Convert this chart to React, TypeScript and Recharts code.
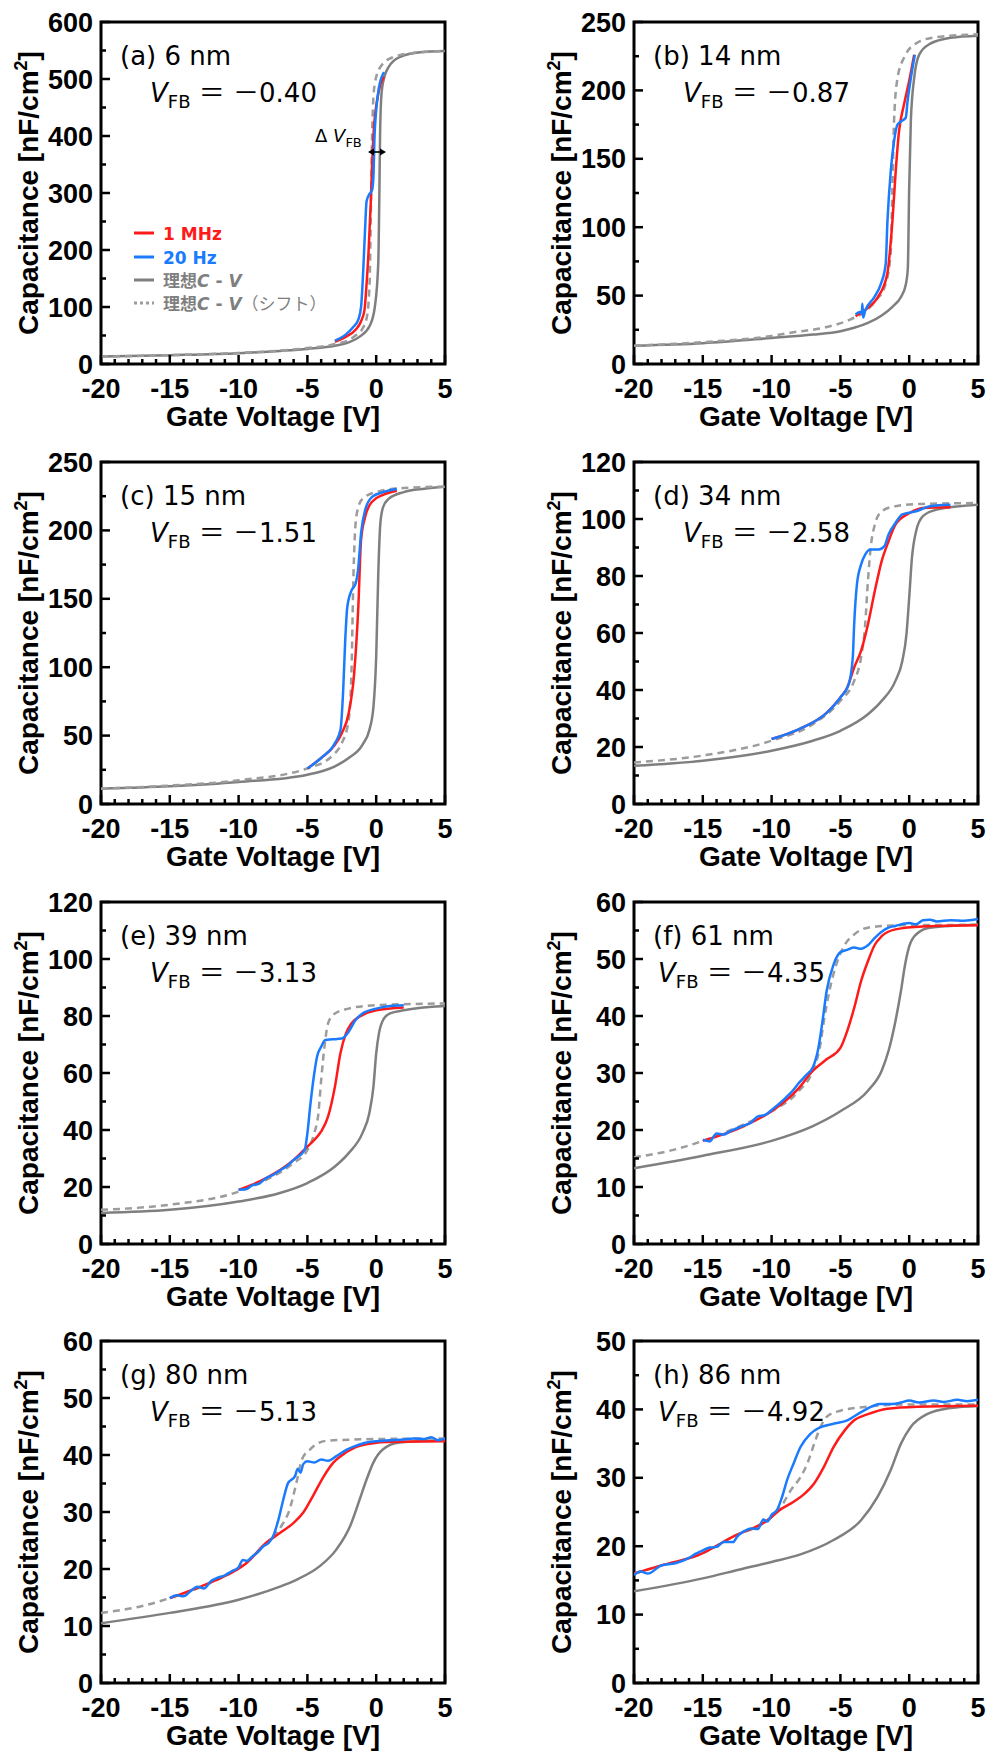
import React from 'react';
import { LineChart, Line, XAxis, YAxis, ReferenceArea } from 'recharts';

type Pt = [number, number];

const ARIAL = '"Liberation Sans", Arial, sans-serif';
const LABEL_FONT = '"DejaVu Sans", "Noto Sans CJK JP", sans-serif';
const RED = '#ff1a1a';
const BLUE = '#1a7bff';
const GRAY = '#7f7f7f';
const GRAY_D = '#9c9c9c';

// gate voltage ticks (every 1 V, labelled every 5 V)
const xTicks = [-20, -19, -18, -17, -16, -15, -14, -13, -12, -11, -10, -9, -8, -7, -6, -5, -4, -3, -2, -1, 0, 1, 2, 3, 4, 5];

// (a) 6 nm
const aIdeal: Pt[] = [[-20, 13], [-15, 15.5], [-10, 19], [-7, 23], [-5, 26.5], [-3, 32], [-2, 38], [-1.2, 48], [-0.45, 68], [-0.1, 100], [0.15, 177], [0.22, 280], [0.28, 400], [0.35, 460], [0.48, 492], [0.9, 521], [1.75, 539], [3.2, 547], [5, 549]];
const aShift: Pt[] = [[-20, 13], [-15, 15.5], [-10, 19.5], [-7, 23.5], [-5, 28], [-3, 35], [-2, 42], [-1.5, 50], [-1, 62], [-0.7, 80], [-0.55, 110], [-0.45, 170], [-0.38, 280], [-0.3, 400], [-0.22, 460], [-0.1, 492], [0.3, 521], [1.2, 538], [2.8, 546], [5, 549]];
const a1MHz: Pt[] = [[-3, 39], [-2.2, 48], [-1.5, 60], [-1.1, 75], [-0.85, 95], [-0.7, 140], [-0.55, 200], [-0.4, 280], [-0.28, 360], [-0.15, 420], [0.05, 460], [0.3, 490], [0.57, 504]];
const a20Hz: Pt[] = [[-3, 41], [-2.2, 52], [-1.7, 64], [-1.3, 78], [-1.1, 100], [-0.95, 160], [-0.82, 230], [-0.7, 285], [-0.5, 298], [-0.3, 305], [-0.2, 330], [-0.12, 400], [-0.02, 440], [0.2, 485], [0.57, 512]];
const aYTicks = [0, 50, 100, 150, 200, 250, 300, 350, 400, 450, 500, 550, 600];

// (b) 14 nm
const bIdeal: Pt[] = [[-20, 13.4], [-15, 15.2], [-10, 19], [-7, 21.5], [-5, 24], [-4, 26.5], [-3, 30], [-2, 35.5], [-1.2, 42], [-0.6, 49], [-0.25, 58], [-0.1, 70], [0, 129], [0.12, 178], [0.36, 209], [0.72, 226], [1.5, 234], [3, 238.5], [5, 240]];
const bShift: Pt[] = [[-20, 13.4], [-15, 16], [-10, 20.5], [-8.6, 22.9], [-6, 27], [-4.3, 32.5], [-3, 40], [-2.3, 48], [-1.8, 55.8], [-1.35, 80], [-1.22, 129], [-1.1, 178], [-0.85, 209], [-0.37, 224], [0.6, 235], [2, 239], [5, 241]];
const b1MHz: Pt[] = [[-3.9, 35], [-3, 41], [-2.3, 48.5], [-1.6, 65.6], [-1.22, 104.5], [-0.98, 141], [-0.74, 170], [-0.37, 190], [0, 207], [0.36, 226]];
const b20Hz: Pt[] = [[-3.9, 36.3], [-3.6, 38], [-3.45, 37], [-3.4, 44], [-3.35, 34], [-3.2, 39], [-2.56, 48.5], [-2.07, 58.2], [-1.71, 72.9], [-1.58, 104.5], [-1.34, 141], [-1.1, 163], [-0.85, 175], [-0.49, 178], [-0.25, 180], [-0.12, 192], [0.12, 209], [0.41, 226]];
const bYTicks = [0, 25, 50, 75, 100, 125, 150, 175, 200, 225, 250];

// (c) 15 nm
const cIdeal: Pt[] = [[-20, 11.2], [-15, 12.9], [-10, 16], [-5, 21.4], [-3, 27.5], [-2, 33.6], [-1, 43.3], [-0.5, 54], [-0.2, 71], [0, 108], [0.15, 168], [0.3, 205], [0.5, 217], [0.9, 223], [2, 228], [3.5, 230.5], [5, 232]];
const cShift: Pt[] = [[-20, 11.2], [-15, 13.5], [-10, 17.3], [-5, 26], [-3, 37], [-2.5, 44.5], [-2, 61.5], [-1.8, 95.6], [-1.65, 168], [-1.5, 205], [-1.3, 217], [-1, 223], [0, 228], [2, 231], [5, 232]];
const c1MHz: Pt[] = [[-5, 26], [-4, 33.6], [-3, 43.3], [-2.5, 51.8], [-2, 66.4], [-1.6, 95.6], [-1.3, 144], [-1.1, 193], [-0.8, 210], [-0.3, 221], [0.5, 226], [1.5, 229]];
const c20Hz: Pt[] = [[-5, 26], [-4, 33.6], [-3, 44.5], [-2.6, 54], [-2.4, 83], [-2.25, 120], [-2.1, 144], [-1.8, 156], [-1.5, 161], [-1.3, 173], [-1.1, 198], [-0.8, 215], [-0.3, 224.5], [0.5, 228], [1.5, 230.5]];
const cYTicks = [0, 25, 50, 75, 100, 125, 150, 175, 200, 225, 250];

// (d) 34 nm
const dIdeal: Pt[] = [[-20, 13.4], [-15, 15.2], [-10, 18.7], [-7, 22.2], [-5, 25.7], [-3, 31.5], [-2, 36.2], [-1, 43.2], [-0.5, 50.2], [-0.2, 59.5], [0, 72.4], [0.2, 86.4], [0.5, 95.7], [1, 101], [2, 103.3], [5, 105]];
const dShift: Pt[] = [[-20, 14.6], [-15, 17], [-10, 22.2], [-7, 28], [-5, 36.2], [-4, 43.2], [-3.5, 51.4], [-3.2, 63], [-3, 78.2], [-2.8, 89.9], [-2.5, 98], [-2, 102.7], [-1, 104.5], [1, 105.3], [5, 105.6]];
const d1MHz: Pt[] = [[-10, 22.8], [-8, 26.3], [-6, 32], [-5, 37.4], [-4.5, 40.9], [-4, 47.9], [-3.5, 53.7], [-3, 63], [-2.5, 74.7], [-2, 85.2], [-1.5, 92.2], [-1, 98], [0, 102], [1, 103.9], [3, 104.1]];
const d20Hz: Pt[] = [[-10, 22.8], [-8, 26.3], [-6, 32], [-5, 37.4], [-4.4, 42], [-4.1, 51.4], [-4, 63], [-3.8, 77], [-3.5, 84], [-3.2, 87.5], [-2.8, 89.3], [-2.2, 89.3], [-1.8, 90.5], [-1.5, 94.6], [-1, 98.6], [-0.5, 101.6], [0.5, 102.7], [1.5, 104.5], [3, 105]];
const dYTicks = [0, 10, 20, 30, 40, 50, 60, 70, 80, 90, 100, 110, 120];

// (e) 39 nm
const eIdeal: Pt[] = [[-20, 10.9], [-15, 12], [-10, 14.9], [-7, 17.9], [-5, 21.4], [-3, 27.2], [-2, 31.9], [-1, 38.9], [-0.5, 45.9], [-0.2, 55.2], [0, 66.9], [0.2, 73.9], [0.5, 78.6], [1, 80.9], [2, 82], [5, 83.5]];
const eShift: Pt[] = [[-20, 12], [-15, 13.8], [-10, 18.4], [-8, 22.5], [-6, 28.4], [-5, 33], [-4.5, 38.9], [-4.2, 45.9], [-4, 57.5], [-3.7, 71.6], [-3.5, 77.4], [-3, 80.9], [-2, 82.6], [0, 83.8], [5, 84.4]];
const e1MHz: Pt[] = [[-10, 19], [-8, 23.1], [-6, 29.5], [-5, 34.2], [-4.5, 36.5], [-4, 39.5], [-3.5, 44.7], [-3, 55.2], [-2.6, 66.9], [-2.2, 73.9], [-1.8, 77.4], [-1, 80.3], [0, 82], [2, 83]];
const e20Hz: Pt[] = [[-10, 19], [-9.5, 19.2], [-9, 20.6], [-8.5, 21.2], [-8, 23.1], [-7.5, 24.2], [-7, 25.8], [-6.5, 27.3], [-6, 29.5], [-5.2, 33], [-5, 38.9], [-4.8, 48.2], [-4.5, 59.9], [-4.3, 65.7], [-4, 69.2], [-3.7, 71.6], [-3.2, 71.8], [-2.5, 72.1], [-2, 74.5], [-1.5, 78.6], [-1, 80.9], [0, 82.6], [1, 83.5], [2, 83.8]];
const eYTicks = [0, 10, 20, 30, 40, 50, 60, 70, 80, 90, 100, 110, 120];

// (f) 61 nm
const fIdeal: Pt[] = [[-20, 13.3], [-15, 15.5], [-10, 18.1], [-7, 20.7], [-5, 23.3], [-3, 26.9], [-2, 30.4], [-1.5, 33.9], [-1, 39.1], [-0.6, 44.4], [-0.3, 49], [0, 52.2], [0.5, 54.3], [1.5, 55.5], [5, 56]];
const fShift: Pt[] = [[-20, 15.2], [-17, 16.6], [-15, 18.1], [-12, 21], [-10, 23.3], [-8, 26.9], [-7, 30.4], [-6.5, 34.4], [-6.2, 39.1], [-5.8, 44.4], [-5.3, 49], [-4.8, 52], [-4, 54.3], [-3, 55.5], [-1, 55.9], [5, 56]];
const f1MHz: Pt[] = [[-15, 18.1], [-12, 20.7], [-10, 23.3], [-8, 27.4], [-7, 30.4], [-6, 32.4], [-5, 34.4], [-4.5, 37.4], [-4, 41.4], [-3.5, 46.1], [-3, 49.6], [-2.5, 52.5], [-2, 54], [-1, 55.2], [1, 55.7], [5, 55.9]];
const f20Hz: Pt[] = [[-15, 18.3], [-14.5, 18.0], [-14, 19.4], [-13.5, 19.2], [-13, 19.8], [-12, 20.8], [-11.5, 21.3], [-11, 22.4], [-10.5, 22.6], [-10, 23.5], [-9, 25.6], [-8.5, 26.8], [-8, 28.3], [-7.5, 29.6], [-7, 31], [-6.6, 34.4], [-6.3, 39.1], [-6, 44.4], [-5.5, 49], [-5, 51.2], [-4.5, 51.6], [-4, 52], [-3.5, 51.8], [-3, 52.4], [-2.5, 53.7], [-2, 54.8], [-1.5, 55.5], [-1, 55.8], [0, 56.3], [0.5, 56.1], [1, 56.8], [1.5, 56.9], [2, 56.6], [3, 56.8], [4, 56.7], [5, 57]];
const fYTicks = [0, 5, 10, 15, 20, 25, 30, 35, 40, 45, 50, 55, 60];

// (g) 80 nm
const gIdeal: Pt[] = [[-20, 10.5], [-15, 12.3], [-10, 14.6], [-7, 16.9], [-5.8, 18.1], [-4.1, 20.5], [-2.9, 23.4], [-1.9, 27.5], [-1.2, 32.2], [-0.7, 35.7], [-0.2, 38.7], [0.5, 41], [1.7, 42.2], [5, 42.6]];
const gShift: Pt[] = [[-20, 12.3], [-17, 13.5], [-15, 14.9], [-12, 17.6], [-10, 20.2], [-8.5, 23.2], [-7.5, 25.6], [-6.9, 27.5], [-6.3, 30.4], [-5.8, 35.1], [-5.4, 39.2], [-4.8, 41], [-3.6, 42.5], [0, 42.8], [5, 42.9]];
const g1MHz: Pt[] = [[-15, 14.9], [-13, 16.7], [-11.6, 18.1], [-9.4, 21.1], [-8, 24.6], [-7, 26.3], [-6, 28.1], [-5.3, 29.9], [-4.6, 32.8], [-3.8, 36.3], [-3.1, 38.7], [-2.4, 40.1], [-1.2, 41.6], [0.8, 42.3], [5, 42.4]];
const g20Hz: Pt[] = [[-15, 14.9], [-14.5, 15.4], [-14, 15.2], [-13.5, 16.1], [-13, 16.9], [-12.5, 16.6], [-12, 17.9], [-11.6, 18.4], [-11, 18.9], [-10.5, 19.6], [-10, 20.3], [-9.7, 21.6], [-9.4, 21.4], [-9, 22.2], [-8.6, 23], [-8.2, 24], [-7.8, 24.6], [-7.5, 25.7], [-7.1, 28.7], [-6.75, 32.2], [-6.4, 35.1], [-5.9, 36.3], [-5.7, 37.6], [-5.5, 36.9], [-5.3, 38.4], [-5, 38.9], [-4.5, 38.7], [-4, 39.2], [-3.5, 39], [-2.9, 39.8], [-2.1, 41], [-1.5, 41.6], [-0.7, 42.2], [0, 42.4], [1, 42.6], [2, 42.7], [2.7, 42.9], [3.5, 42.8], [4, 43.1], [4.5, 42.6], [5, 42.9]];
const gYTicks = [0, 5, 10, 15, 20, 25, 30, 35, 40, 45, 50, 55, 60];

// (h) 86 nm
const hIdeal: Pt[] = [[-20, 13.4], [-15, 15.3], [-12.3, 16.6], [-10, 17.7], [-7.9, 18.8], [-5.5, 20.9], [-3.5, 23.8], [-2.3, 27.2], [-1.35, 31.1], [-0.6, 35], [0.1, 37.4], [1.3, 39.3], [3, 40.2], [5, 40.5]];
const hShift: Pt[] = [[-20, 16], [-18, 17.2], [-15.2, 18.8], [-12.8, 21.4], [-10.3, 23.8], [-9.4, 25.5], [-8.6, 28.2], [-7.9, 30.1], [-7.4, 32.1], [-6.9, 35], [-6.45, 37.4], [-6, 38.9], [-5, 39.8], [-3, 40.4], [-0.6, 40.7], [5, 40.7]];
const h1MHz: Pt[] = [[-20, 16], [-18, 17.2], [-15.2, 18.8], [-12.8, 21.4], [-10.3, 23.8], [-9.4, 25.3], [-8.4, 26.5], [-7.7, 27.5], [-6.9, 29.2], [-6.2, 31.6], [-5.5, 34.5], [-4.7, 36.9], [-4, 38.4], [-3, 39.3], [-1.6, 40.1], [0.6, 40.4], [5, 40.55]];
const h20Hz: Pt[] = [[-20, 15.8], [-19.5, 16.3], [-19, 16], [-18, 17.2], [-17, 17.5], [-16, 18.3], [-15.5, 18.9], [-15.2, 19.2], [-14.5, 19.8], [-14, 19.9], [-13.5, 20.6], [-12.8, 20.6], [-12.5, 21.4], [-12, 22.2], [-11.5, 22.6], [-11, 22.5], [-10.6, 23.9], [-10.3, 23.6], [-10, 24.6], [-9.6, 25.3], [-9.24, 27.2], [-8.87, 29.7], [-8.4, 32.1], [-7.9, 34.5], [-7.2, 36.4], [-6.45, 37.4], [-5.5, 37.9], [-4.5, 38.4], [-3.5, 39.6], [-2.1, 40.8], [-1.2, 40.8], [-0.6, 41], [0, 41.3], [0.7, 41], [1.8, 41.3], [2.5, 41.1], [3.5, 41.4], [4.2, 41.2], [5, 41.4]];
const hYTicks = [0, 5, 10, 15, 20, 25, 30, 35, 40, 45, 50];

interface Panel {
  id: string;
  thick: string;
  vfb: string;
  ideal: Pt[];
  shift: Pt[];
  mhz: Pt[];
  hz: Pt[];
  yTicks: number[];
  yStep: number;
  vfbX: number;
}

const panels: Panel[] = [
  { id: 'a', thick: '6 nm', vfb: '0.40', ideal: aIdeal, shift: aShift, mhz: a1MHz, hz: a20Hz, yTicks: aYTicks, yStep: 100, vfbX: 49 },
  { id: 'b', thick: '14 nm', vfb: '0.87', ideal: bIdeal, shift: bShift, mhz: b1MHz, hz: b20Hz, yTicks: bYTicks, yStep: 50, vfbX: 49 },
  { id: 'c', thick: '15 nm', vfb: '1.51', ideal: cIdeal, shift: cShift, mhz: c1MHz, hz: c20Hz, yTicks: cYTicks, yStep: 50, vfbX: 49 },
  { id: 'd', thick: '34 nm', vfb: '2.58', ideal: dIdeal, shift: dShift, mhz: d1MHz, hz: d20Hz, yTicks: dYTicks, yStep: 20, vfbX: 49 },
  { id: 'e', thick: '39 nm', vfb: '3.13', ideal: eIdeal, shift: eShift, mhz: e1MHz, hz: e20Hz, yTicks: eYTicks, yStep: 20, vfbX: 49 },
  { id: 'f', thick: '61 nm', vfb: '4.35', ideal: fIdeal, shift: fShift, mhz: f1MHz, hz: f20Hz, yTicks: fYTicks, yStep: 10, vfbX: 24 },
  { id: 'g', thick: '80 nm', vfb: '5.13', ideal: gIdeal, shift: gShift, mhz: g1MHz, hz: g20Hz, yTicks: gYTicks, yStep: 10, vfbX: 49 },
  { id: 'h', thick: '86 nm', vfb: '4.92', ideal: hIdeal, shift: hShift, mhz: h1MHz, hz: h20Hz, yTicks: hYTicks, yStep: 10, vfbX: 24 },
];

const rowTops = [0, 440, 880, 1319];
const colLefts = [0, 533];

// plot box inside each chart
const CW = 455;
const CH = 440;
const PL = 101;
const PT = 22;
const PW = 344;
const PH = 342;
const PB = PT + PH;

const MAJOR = 9;
const MINOR = 5;
const TW = 2.5;

const toRows = (pts: Pt[]) => pts.map(([v, c]) => ({ v, c }));

const BottomTick = (props: any) => {
  const { x, y, payload } = props;
  const major = payload.value % 5 === 0;
  return (
    <g>
      <line x1={x} x2={x} y1={y} y2={y - (major ? MAJOR : MINOR)} stroke="#000" strokeWidth={TW} />
      {major && (
        <text x={x} y={y + 34} textAnchor="middle" fontFamily={ARIAL} fontWeight="bold" fontSize={27} fill="#000">
          {payload.value}
        </text>
      )}
    </g>
  );
};

const TopTick = (props: any) => {
  const { x, y, payload } = props;
  const major = payload.value % 5 === 0;
  return <line x1={x} x2={x} y1={y} y2={y + (major ? MAJOR : MINOR)} stroke="#000" strokeWidth={TW} />;
};

const LeftTick = (props: any) => {
  const { x, y, payload, step } = props;
  const major = payload.value % step === 0;
  return (
    <g>
      <line x1={x} x2={x + (major ? MAJOR : MINOR)} y1={y} y2={y} stroke="#000" strokeWidth={TW} />
      {major && (
        <text x={x - 8} y={y + 9.5} textAnchor="end" fontFamily={ARIAL} fontWeight="bold" fontSize={27} fill="#000">
          {payload.value}
        </text>
      )}
    </g>
  );
};

const RightTick = (props: any) => {
  const { x, y, payload, step } = props;
  const major = payload.value % step === 0;
  return <line x1={x} x2={x - (major ? MAJOR : MINOR)} y1={y} y2={y} stroke="#000" strokeWidth={TW} />;
};

const Legend1 = () => {
  const rows = [
    { y: 233, color: RED, dash: undefined, label: <tspan>1 MHz</tspan> },
    { y: 257, color: BLUE, dash: undefined, label: <tspan>20 Hz</tspan> },
    {
      y: 280, color: GRAY, dash: undefined,
      label: <><tspan>理想</tspan><tspan fontStyle="italic">C</tspan><tspan> - </tspan><tspan fontStyle="italic">V</tspan></>,
    },
    {
      y: 303, color: GRAY_D, dash: '3 3',
      label: <><tspan>理想</tspan><tspan fontStyle="italic">C</tspan><tspan> - </tspan><tspan fontStyle="italic">V</tspan><tspan fontWeight={400}>（シフト）</tspan></>,
    },
  ];
  return (
    <g>
      {rows.map((r, i) => (
        <g key={i}>
          <line x1={134} x2={154} y1={r.y} y2={r.y} stroke={r.color} strokeWidth={3} strokeDasharray={r.dash} />
          <text x={163} y={r.y + 6.5} fontFamily={LABEL_FONT} fontWeight="bold" fontSize={17} fill={i < 2 ? r.color : GRAY}>
            {r.label}
          </text>
        </g>
      ))}
      <text x={315} y={142} fontFamily={LABEL_FONT} fontSize={18} fill="#000">
        <tspan>Δ </tspan>
        <tspan fontStyle="italic">V</tspan>
        <tspan fontSize={13} dy={5}>FB</tspan>
      </text>
      <line x1={372} x2={382} y1={152} y2={152} stroke="#000" strokeWidth={1.6} />
      <polygon points="368,152 374,148.5 374,155.5" fill="#000" />
      <polygon points="386,152 380,148.5 380,155.5" fill="#000" />
    </g>
  );
};

const PanelChart = ({ p, left, top }: { p: Panel; left: number; top: number }) => {
  const ymax = p.yTicks[p.yTicks.length - 1];
  return (
    <div style={{ position: 'absolute', left, top, width: CW, height: CH }}>
      <LineChart width={CW} height={CH} margin={{ top: PT, right: CW - PL - PW, bottom: 0, left: 0 }}>
        <XAxis
          xAxisId="bottom" dataKey="v" type="number" domain={[-20, 5]} allowDataOverflow
          ticks={xTicks} interval={0} height={CH - PB} axisLine={false} tickLine={false}
          tickSize={0} tickMargin={0} tick={(t: any) => <BottomTick {...t} />}
        />
        <XAxis
          xAxisId="top" orientation="top" dataKey="v" type="number" domain={[-20, 5]} allowDataOverflow
          ticks={xTicks} interval={0} height={0} axisLine={false} tickLine={false}
          tickSize={0} tickMargin={0} tick={(t: any) => <TopTick {...t} />}
        />
        <YAxis
          yAxisId="left" type="number" domain={[0, ymax]} allowDataOverflow ticks={p.yTicks} interval={0}
          width={PL} axisLine={false} tickLine={false} tickSize={0} tickMargin={0}
          tick={(t: any) => <LeftTick {...t} step={p.yStep} />}
        />
        <YAxis
          yAxisId="right" orientation="right" type="number" domain={[0, ymax]} allowDataOverflow ticks={p.yTicks}
          interval={0} width={0} axisLine={false} tickLine={false} tickSize={0} tickMargin={0}
          tick={(t: any) => <RightTick {...t} step={p.yStep} />}
        />
        <Line data={toRows(p.ideal)} dataKey="c" xAxisId="bottom" yAxisId="left" type="monotone" stroke={GRAY} strokeWidth={2.5} dot={false} isAnimationActive={false} />
        <Line data={toRows(p.shift)} dataKey="c" xAxisId="bottom" yAxisId="left" type="monotone" stroke={GRAY_D} strokeWidth={2.5} strokeDasharray="7 5" dot={false} isAnimationActive={false} />
        <Line data={toRows(p.mhz)} dataKey="c" xAxisId="bottom" yAxisId="left" type="monotone" stroke={RED} strokeWidth={2.5} dot={false} isAnimationActive={false} />
        <Line data={toRows(p.hz)} dataKey="c" xAxisId="bottom" yAxisId="left" type="monotone" stroke={BLUE} strokeWidth={2.5} dot={false} isAnimationActive={false} />
        <ReferenceArea
          xAxisId="bottom" yAxisId="left" x1={-20} x2={5} y1={0} y2={ymax}
          fill="none" fillOpacity={0} stroke="#000" strokeWidth={3} ifOverflow="visible"
        />
      </LineChart>
      <svg width={CW} height={CH} style={{ position: 'absolute', left: 0, top: 0, pointerEvents: 'none' }}>
        <text x={PL + PW / 2} y={PB + 62} textAnchor="middle" fontFamily={ARIAL} fontWeight="bold" fontSize={28} fill="#000">
          Gate Voltage [V]
        </text>
        <text transform={`translate(38, ${PT + PH / 2}) rotate(-90)`} textAnchor="middle" fontFamily={ARIAL} fontWeight="bold" fontSize={28} fill="#000">
          Capacitance [nF/cm<tspan fontSize={18} dy={-11}>2</tspan><tspan dy={11}>]</tspan>
        </text>
        <text x={PL + 19} y={PT + 43} fontFamily={LABEL_FONT} fontSize={26} fill="#000">
          ({p.id}) {p.thick}
        </text>
        <text x={PL + p.vfbX} y={PT + 80} fontFamily={LABEL_FONT} fontSize={26} fill="#000">
          <tspan fontStyle="italic">V</tspan>
          <tspan fontSize={18} dy={6}>FB</tspan>
          <tspan dy={-6}> ＝ －{p.vfb}</tspan>
        </text>
        {p.id === 'a' && <Legend1 />}
      </svg>
    </div>
  );
};

export default function App() {
  return (
    <div style={{ position: 'absolute', left: 0, top: 0, width: 990, height: 1756, background: '#fff' }}>
      {panels.map((p, i) => (
        <PanelChart key={p.id} p={p} left={colLefts[i % 2]} top={rowTops[Math.floor(i / 2)]} />
      ))}
    </div>
  );
}
